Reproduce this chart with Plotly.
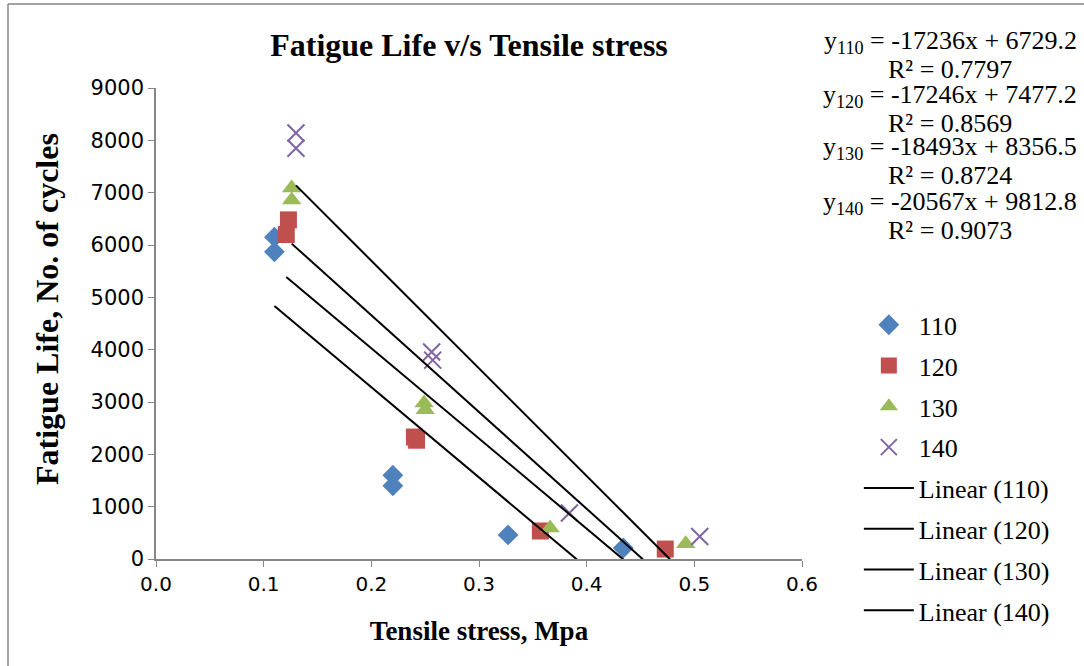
import plotly.graph_objects as go
import numpy as np

# ---- data ----
series_names = ["110", "120", "130", "140"]
x110 = [0.110, 0.110, 0.220, 0.220, 0.327, 0.434]
y110 = [6150, 5870, 1600, 1400, 460, 210]
x120 = [0.123, 0.121, 0.240, 0.242, 0.357, 0.473]
y120 = [6480, 6200, 2330, 2270, 535, 190]
x130 = [0.126, 0.126, 0.249, 0.250, 0.366, 0.492]
y130 = [7090, 6860, 2980, 2850, 590, 290]
x140 = [0.130, 0.130, 0.256, 0.257, 0.384, 0.505]
y140 = [8140, 7850, 3956, 3800, 880, 430]
slopes = [-17236, -17246, -18493, -20567]
intercepts = [6729.2, 7477.2, 8356.5, 9812.8]
r2 = ["0.7797", "0.8569", "0.8724", "0.9073"]
x_ticks = [0.0, 0.1, 0.2, 0.3, 0.4, 0.5, 0.6]
y_ticks = [0, 1000, 2000, 3000, 4000, 5000, 6000, 7000, 8000, 9000]

xs = [x110, x120, x130, x140]
ys = [y110, y120, y130, y140]
colors = ["#4F81BD", "#C0504D", "#9BBB59", "#8064A2"]
symbols = ["diamond", "square", "triangle-up", "x-thin"]
sizes = [16, 17, 17, 17]

fig = go.Figure()
for i in range(4):
    marker = dict(symbol=symbols[i], size=sizes[i], color=colors[i])
    if symbols[i] == "x-thin":
        marker["line"] = dict(color=colors[i], width=2)
    else:
        marker["line"] = dict(width=0)
    fig.add_trace(go.Scatter(x=xs[i], y=ys[i], mode="markers", name=series_names[i],
                             marker=marker, legendgroup="m" + series_names[i]))

for i in range(4):
    xr = np.array([min(xs[i]), max(xs[i])])
    yr = slopes[i] * xr + intercepts[i]
    fig.add_trace(go.Scatter(x=xr, y=yr, mode="lines", name=f"Linear ({series_names[i]})",
                             line=dict(color="black", width=2), legendgroup="l" + series_names[i]))

serif = "Liberation Serif"
fig.update_layout(
    width=1084, height=666,
    margin=dict(l=156, r=282, t=88, b=107),
    paper_bgcolor="white", plot_bgcolor="white",
    title=dict(text="<b>Fatigue Life v/s Tensile stress</b>", x=(469) / 1084, xanchor="center",
               y=1 - 45 / 666, yanchor="middle", font=dict(family=serif, size=32, color="black")),
    showlegend=True,
    legend=dict(x=1.088, y=0.547, xanchor="left", yanchor="top",
                font=dict(family=serif, size=26, color="black"),
                tracegroupgap=4, itemwidth=50, bgcolor="rgba(0,0,0,0)"),
    xaxis=dict(range=[0, 0.6], tickvals=x_ticks, ticktext=[f"{v:.1f}" for v in x_ticks],
               showgrid=False, zeroline=False, showline=True, linecolor="#868686", linewidth=1.5,
               ticks="outside", ticklen=6, tickcolor="#868686",
               tickfont=dict(family="DejaVu Sans", size=20, color="black"),
               title=dict(text="<b>Tensile stress, Mpa</b>", font=dict(family=serif, size=27, color="black"), standoff=26)),
    yaxis=dict(range=[0, 9000], tickvals=y_ticks, ticktext=[str(v) for v in y_ticks],
               showgrid=False, zeroline=False, showline=True, linecolor="#868686", linewidth=1.5,
               ticks="outside", ticklen=6, tickcolor="#868686",
               tickfont=dict(family="DejaVu Sans", size=21, color="black")),
)

# y-axis title as rotated annotation (positioned as in reference)
fig.add_annotation(xref="paper", yref="paper", x=(47 - 156) / 646, y=(559 - 309) / 471,
                   text="<b>Fatigue Life, No. of cycles</b>", textangle=-90, showarrow=False,
                   xanchor="center", yanchor="middle",
                   font=dict(family=serif, size=32, color="black"))

eq_y = [42, 96, 148, 203]
for i in range(4):
    b = intercepts[i]
    fig.add_annotation(xref="paper", yref="paper", x=(950 - 156) / 646, y=(559 - eq_y[i]) / 471,
                       text=f"y<sub>{series_names[i]}</sub> = {slopes[i]}x + {b}",
                       showarrow=False, xanchor="center", yanchor="middle",
                       font=dict(family=serif, size=26, color="black"))
    fig.add_annotation(xref="paper", yref="paper", x=(950 - 156) / 646, y=(559 - (eq_y[i] + 27)) / 471,
                       text=f"R² = {r2[i]}",
                       showarrow=False, xanchor="center", yanchor="middle",
                       font=dict(family=serif, size=26, color="black"))

# outer chart border (left and top visible)
fig.add_shape(type="line", xref="paper", yref="paper", x0=(8 - 156) / 646, x1=(8 - 156) / 646,
              y0=(559 - 4) / 471, y1=(559 - 680) / 471, line=dict(color="#868686", width=1.5))
fig.add_shape(type="line", xref="paper", yref="paper", x0=(8 - 156) / 646, x1=(1100 - 156) / 646,
              y0=(559 - 4) / 471, y1=(559 - 4) / 471, line=dict(color="#868686", width=1.5))

fig.write_html("out.html")
